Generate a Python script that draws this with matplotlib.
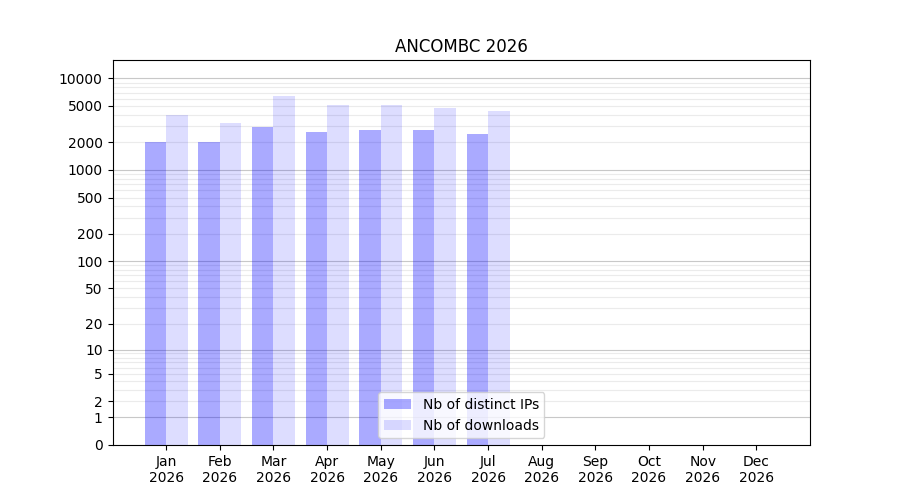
import numpy as np
import matplotlib
matplotlib.use("Agg")
import matplotlib.pyplot as plt

months = ["Jan", "Feb", "Mar", "Apr", "May", "Jun", "Jul", "Aug", "Sep", "Oct", "Nov", "Dec"]
year = "2026"
distinct_ips = [2010, 2010, 2940, 2600, 2730, 2730, 2470]
downloads = [3980, 3250, 6420, 5120, 5120, 4750, 4400]
ytick_vals = [0, 1, 2, 5, 10, 20, 50, 100, 200, 500, 1000, 2000, 5000, 10000]

fwd = lambda x: np.log10(1 + np.clip(x, 0, None))
inv = lambda y: 10 ** y - 1

fig, ax = plt.subplots(figsize=(9, 5), dpi=100)
ax.set_yscale("function", functions=(fwd, inv))

# grid lines (behind bars)
for p in [1, 10, 100, 1000]:
    for m in range(2, 10):
        ax.axhline(p * m, color="#ebebeb", lw=0.8, zorder=0)
for p in [1, 10, 100, 1000, 10000]:
    ax.axhline(p, color="#c8c8c8", lw=0.8, zorder=0)

x = np.arange(1, len(distinct_ips) + 1)
ax.bar(x - 0.2, distinct_ips, width=0.4, color=(0, 0, 1, 0.333), label="Nb of distinct IPs", zorder=1)
ax.bar(x + 0.2, downloads, width=0.4, color=(0, 0, 1, 0.133), label="Nb of downloads", zorder=1)

ax.set_ylim(0, 15850)
ax.set_xlim(0, 13)
ax.set_yticks(ytick_vals)
ax.set_yticklabels([str(v) for v in ytick_vals])
ax.minorticks_off()
ax.set_xticks(np.arange(1, 13))
ax.set_xticklabels([f"{m}\n{year}" for m in months])
ax.set_title("ANCOMBC 2026")
ax.legend(loc="lower center")
fig.savefig("out.png", dpi=100)
